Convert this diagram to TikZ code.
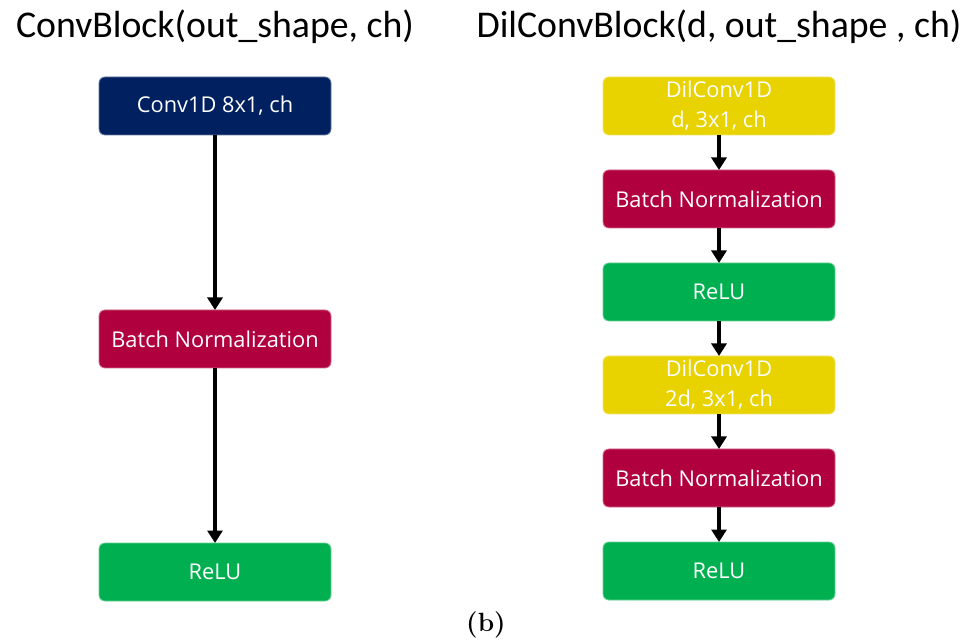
\documentclass[tikz,border=0pt]{standalone}
\usepackage{fontspec}
\newfontfamily\headfont{Carlito}
\newfontfamily\blockfont{Open Sans}
\usetikzlibrary{arrows.meta,positioning}
\definecolor{convblue}{HTML}{002060}
\definecolor{bnred}{HTML}{B0003E}
\definecolor{relugreen}{HTML}{00B050}
\definecolor{dilyellow}{HTML}{E8D200}

\begin{document}
\begin{tikzpicture}[ -, node distance = 0.7cm,
                    auto, main/.style = {rounded corners=0.12cm, minimum width=4.64cm,
                      minimum height=1.16cm, inner sep=0pt, outer sep=0pt, align=center,
                      text=white, line width=0.5pt,
                      font=\blockfont\fontsize{12.4}{17}\selectfont},
                    conv/.style = {main, fill=convblue, draw=convblue!60!white},
                    bn/.style = {main, fill=bnred, draw=bnred!60!white},
                    relu/.style = {main, fill=relugreen, draw=relugreen!60!white},
                    dil/.style = {main, fill=dilyellow, draw=dilyellow!60!white},
                    head/.style = {font=\headfont\fontsize{21.5}{26}\selectfont},
                    flow/.style = {line width=2.3pt, -{Triangle[length=0.25cm, width=0.3cm]}}]
\useasboundingbox (0,0) rectangle (19.44,12.82);
% left: plain block
\begin{scope}[node distance=3.5cm]
\node[conv] (c1) at (4.30,10.70) {Conv1D 8x1, ch};
\node[bn, below= of c1] (c2) {Batch Normalization};
\node[relu, below= of c2] (c3) {ReLU};
\node[head, above=0.78cm of c1, anchor=base] (t1) {ConvBlock(out\_shape, ch)};
\draw[flow] (c1) -- (c2);
\draw[flow] (c2) -- (c3);
\end{scope}
% right: dilated block
\begin{scope}[node distance=0.7cm]
\node[dil] (d1) at (14.38,10.70) {DilConv1D\\d, 3x1, ch};
\node[bn, below= of d1] (d2) {Batch Normalization};
\node[relu, below= of d2] (d3) {ReLU};
\node[dil, below= of d3] (d4) {DilConv1D\\2d, 3x1, ch};
\node[bn, below= of d4] (d5) {Batch Normalization};
\node[relu, below= of d5] (d6) {ReLU};
\node[head, above=0.78cm of d1, anchor=base] (t2) {DilConvBlock(d, out\_shape , ch)};
\draw[flow] (d1) -- (d2);
\draw[flow] (d2) -- (d3);
\draw[flow] (d3) -- (d4);
\draw[flow] (d4) -- (d5);
\draw[flow] (d5) -- (d6);
\end{scope}
\node[font=\bfseries\fontsize{15}{18}\selectfont] (cap) at (9.72,0.32) {(b)};
\end{tikzpicture}
\end{document}
